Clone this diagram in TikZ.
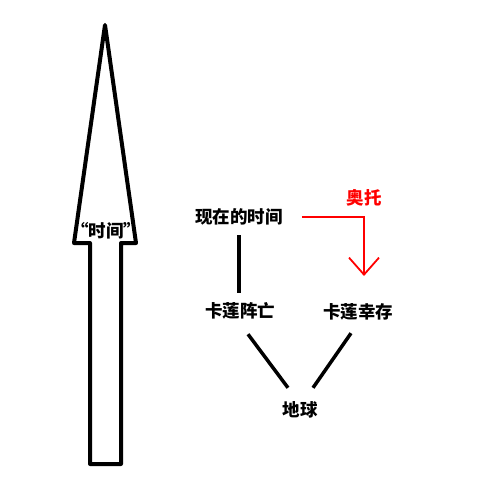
\documentclass[tikz,border=0pt]{standalone}
\usepackage{fontspec}
\newfontfamily\cjk{Noto Sans CJK SC}
\usetikzlibrary{arrows.meta,calc}

\tikzset{
    word/.style={font=\cjk\bfseries\fontsize{17.5}{19}\selectfont, inner sep=0pt, minimum height=36pt},
    link/.style={line width=3.5pt},
    otto/.style={red, line width=1.8pt}
}

\begin{document}
\begin{tikzpicture}[x=1pt,y=-1pt]
    \useasboundingbox (0,0) rectangle (487,500);
    % time arrow
    \draw[line width=4pt, line join=round] (105,25) -- (136,243) -- (121,243) -- (121,464)
        -- (90,464) -- (90,243) -- (74,243) -- cycle;
    \node[word] (time) at (106,231) {“时间”};

    \node[word] (now) at (239,217) {现在的时间};
    \node[word] (dead) at (240,311) {卡莲阵亡};
    \node[word] (alive) at (358,312) {卡莲幸存};
    \node[word] (earth) at (300,410) {地球};
    \node[word, text=red] (otto) at (364,198) {奥托};

    \draw[link] (now.south) -- (now.south |- dead.north);
    \draw[link] ($(dead.south)+(8,5)$) -- ($(earth.north)+(-12,-4)$);
    \draw[link] ($(alive.south)+(-7,3)$) -- ($(earth.north)+(13,-4)$);

    % otto's path
    \coordinate (turn) at (364,217);
    \draw[otto, -{Straight Barb[length=17pt,width=30pt,line width=1.8pt]}]
        ($(now.east)+(19,0)$) -- (turn) -- ($(turn)+(0,59)$);
\end{tikzpicture}
\end{document}
